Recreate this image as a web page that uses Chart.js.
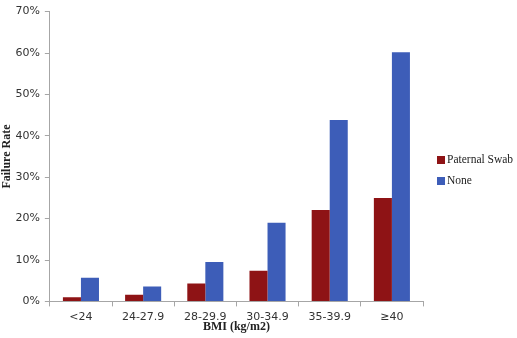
<!DOCTYPE html>
<html>
<head>
<meta charset="utf-8">
<script src="https://cdn.jsdelivr.net/npm/chart.js@4"></script>
<style>
  html, body { margin: 0; padding: 0; background: #fff; }
  #wrap { width: 517px; height: 338px; }
</style>
</head>
<body>
<div id="wrap"><canvas id="chart"></canvas></div>
<script>
// BMI groups and failure rates (%)
const categories = ['<24', '24-27.9', '28-29.9', '30-34.9', '35-39.9', '\u226540'];
const paternalSwab = [1.0, 1.6, 4.3, 7.4, 22.1, 25.0];
const noneSeries = [5.7, 3.6, 9.5, 19.0, 43.8, 60.2];

const axisGray = '#a6a6a6';
const tickFont = { family: "'DejaVu Sans', Verdana, sans-serif", size: 11 };
const titleFont = { family: "'Liberation Serif', Cambria, serif", size: 12, weight: 'bold' };

// legend drawn to the right of the plot, like the original figure
const sideLegend = {
  id: 'sideLegend',
  afterDraw(chart) {
    const ctx = chart.ctx;
    const x = chart.chartArea.right + 14;
    let y = 160;
    ctx.save();
    ctx.font = "11.5px 'Liberation Serif', Cambria, serif";
    ctx.textBaseline = 'middle';
    chart.data.datasets.forEach(ds => {
      ctx.fillStyle = ds.backgroundColor;
      ctx.fillRect(x, y - 4, 8, 8);
      ctx.fillStyle = '#222';
      ctx.fillText(ds.label, x + 10, y);
      y += 21;
    });
    ctx.restore();
  }
};

new Chart(document.getElementById('chart'), {
  type: 'bar',
  data: {
    labels: categories,
    datasets: [
      { label: 'Paternal Swab', data: paternalSwab, backgroundColor: '#8e1315' },
      { label: 'None', data: noneSeries, backgroundColor: '#3d5db8' }
    ]
  },
  plugins: [sideLegend],
  options: {
    responsive: true,
    maintainAspectRatio: false,
    animation: false,
    devicePixelRatio: 1,
    categoryPercentage: 0.58,
    barPercentage: 1.0,
    layout: { padding: { top: -4, right: 94, left: 0, bottom: 4 } },
    plugins: {
      tooltip: { enabled: false },
      legend: { display: false }
    },
    scales: {
      x: {
        grid: { display: true, drawOnChartArea: false, drawTicks: true, tickLength: 5, color: axisGray },
        border: { color: axisGray },
        ticks: { color: '#333', font: tickFont, padding: 4, maxRotation: 0 },
        title: { display: true, text: 'BMI (kg/m2)', color: '#222', font: titleFont, padding: { top: -8, bottom: 0 } }
      },
      y: {
        min: 0,
        max: 70,
        grid: { display: true, drawOnChartArea: false, drawTicks: true, tickLength: 5, color: axisGray },
        border: { color: axisGray },
        ticks: {
          stepSize: 10,
          color: '#333',
          font: tickFont,
          padding: 5,
          callback: v => v + '%'
        },
        title: { display: true, text: 'Failure Rate', color: '#222', font: titleFont, padding: { top: 0, bottom: -4 } }
      }
    }
  }
});
</script>
</body>
</html>
